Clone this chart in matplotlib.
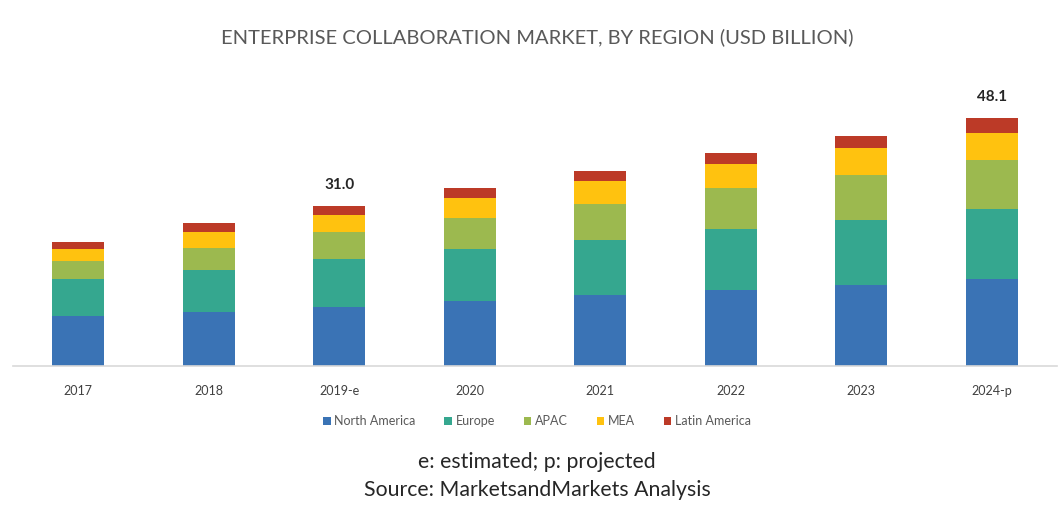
import numpy as np
import matplotlib.pyplot as plt

plt.rcParams['font.family'] = ['Lato', 'DejaVu Sans']

years = ['2017', '2018', '2019-e', '2020', '2021', '2022', '2023', '2024-p']
regions = ['North America', 'Europe', 'APAC', 'MEA', 'Latin America']
colors = ['#3A73B5', '#35A78F', '#9CB94F', '#FFC20F', '#BC3A27']

north_america = [9.7, 10.5, 11.4, 12.5, 13.8, 14.7, 15.7, 16.8]
europe = [7.1, 8.1, 9.4, 10.2, 10.5, 11.8, 12.6, 13.6]
apac = [3.6, 4.3, 5.2, 5.9, 7.1, 7.9, 8.7, 9.4]
mea = [2.3, 3.1, 3.3, 3.9, 4.4, 4.8, 5.3, 5.4]
latin_america = [1.4, 1.6, 1.7, 2.0, 1.9, 2.1, 2.3, 2.9]

# only these two totals carry a label
labelled = {'2019-e': 31.0, '2024-p': 48.1}

series = [north_america, europe, apac, mea, latin_america]

fig = plt.figure(figsize=(10.61, 5.07), dpi=100)
ax = fig.add_axes([13 / 1061, 141 / 507, 1044 / 1061, 266 / 507])

x = np.arange(len(years))
bottom = np.zeros(len(years))
for name, vals, c in zip(regions, series, colors):
    ax.bar(x, vals, 0.4, bottom=bottom, color=c, label=name, linewidth=0)
    bottom += np.array(vals)

for i, yr in enumerate(years):
    if yr in labelled:
        ax.text(i, labelled[yr] + 2.6, f'{labelled[yr]:.1f}', ha='center', va='bottom',
                fontsize=11, fontweight='bold', color='#262626')

ax.set_xlim(-0.5, 7.5)
ax.set_ylim(0, 51.5)
ax.set_xticks(x)
ax.set_xticklabels(years, fontsize=9, color='#404040')
ax.tick_params(axis='x', length=0, pad=14)
ax.set_yticks([])
for s in ['top', 'left', 'right']:
    ax.spines[s].set_visible(False)
ax.spines['bottom'].set_color('#D9D9D9')
ax.spines['bottom'].set_linewidth(1.2)

leg = fig.legend(loc='center', bbox_to_anchor=(537 / 1061, 1 - 421 / 507), ncol=5,
                 frameon=False, fontsize=9, handlelength=0.6, handleheight=0.6,
                 handletextpad=0.3, columnspacing=2.3)
for t in leg.get_texts():
    t.set_color('#595959')

fig.text(537 / 1061, 1 - 37 / 507, 'ENTERPRISE COLLABORATION MARKET, BY REGION (USD BILLION)',
         ha='center', va='center', fontsize=14.5, color='#595959')
fig.text(537 / 1061, 1 - 462 / 507, 'e: estimated; p: projected', ha='center', va='center',
         fontsize=15.3, color='#262626')
fig.text(537 / 1061, 1 - 490 / 507, 'Source: MarketsandMarkets Analysis', ha='center', va='center',
         fontsize=15.3, color='#262626')

fig.savefig('out.png', dpi=100)
